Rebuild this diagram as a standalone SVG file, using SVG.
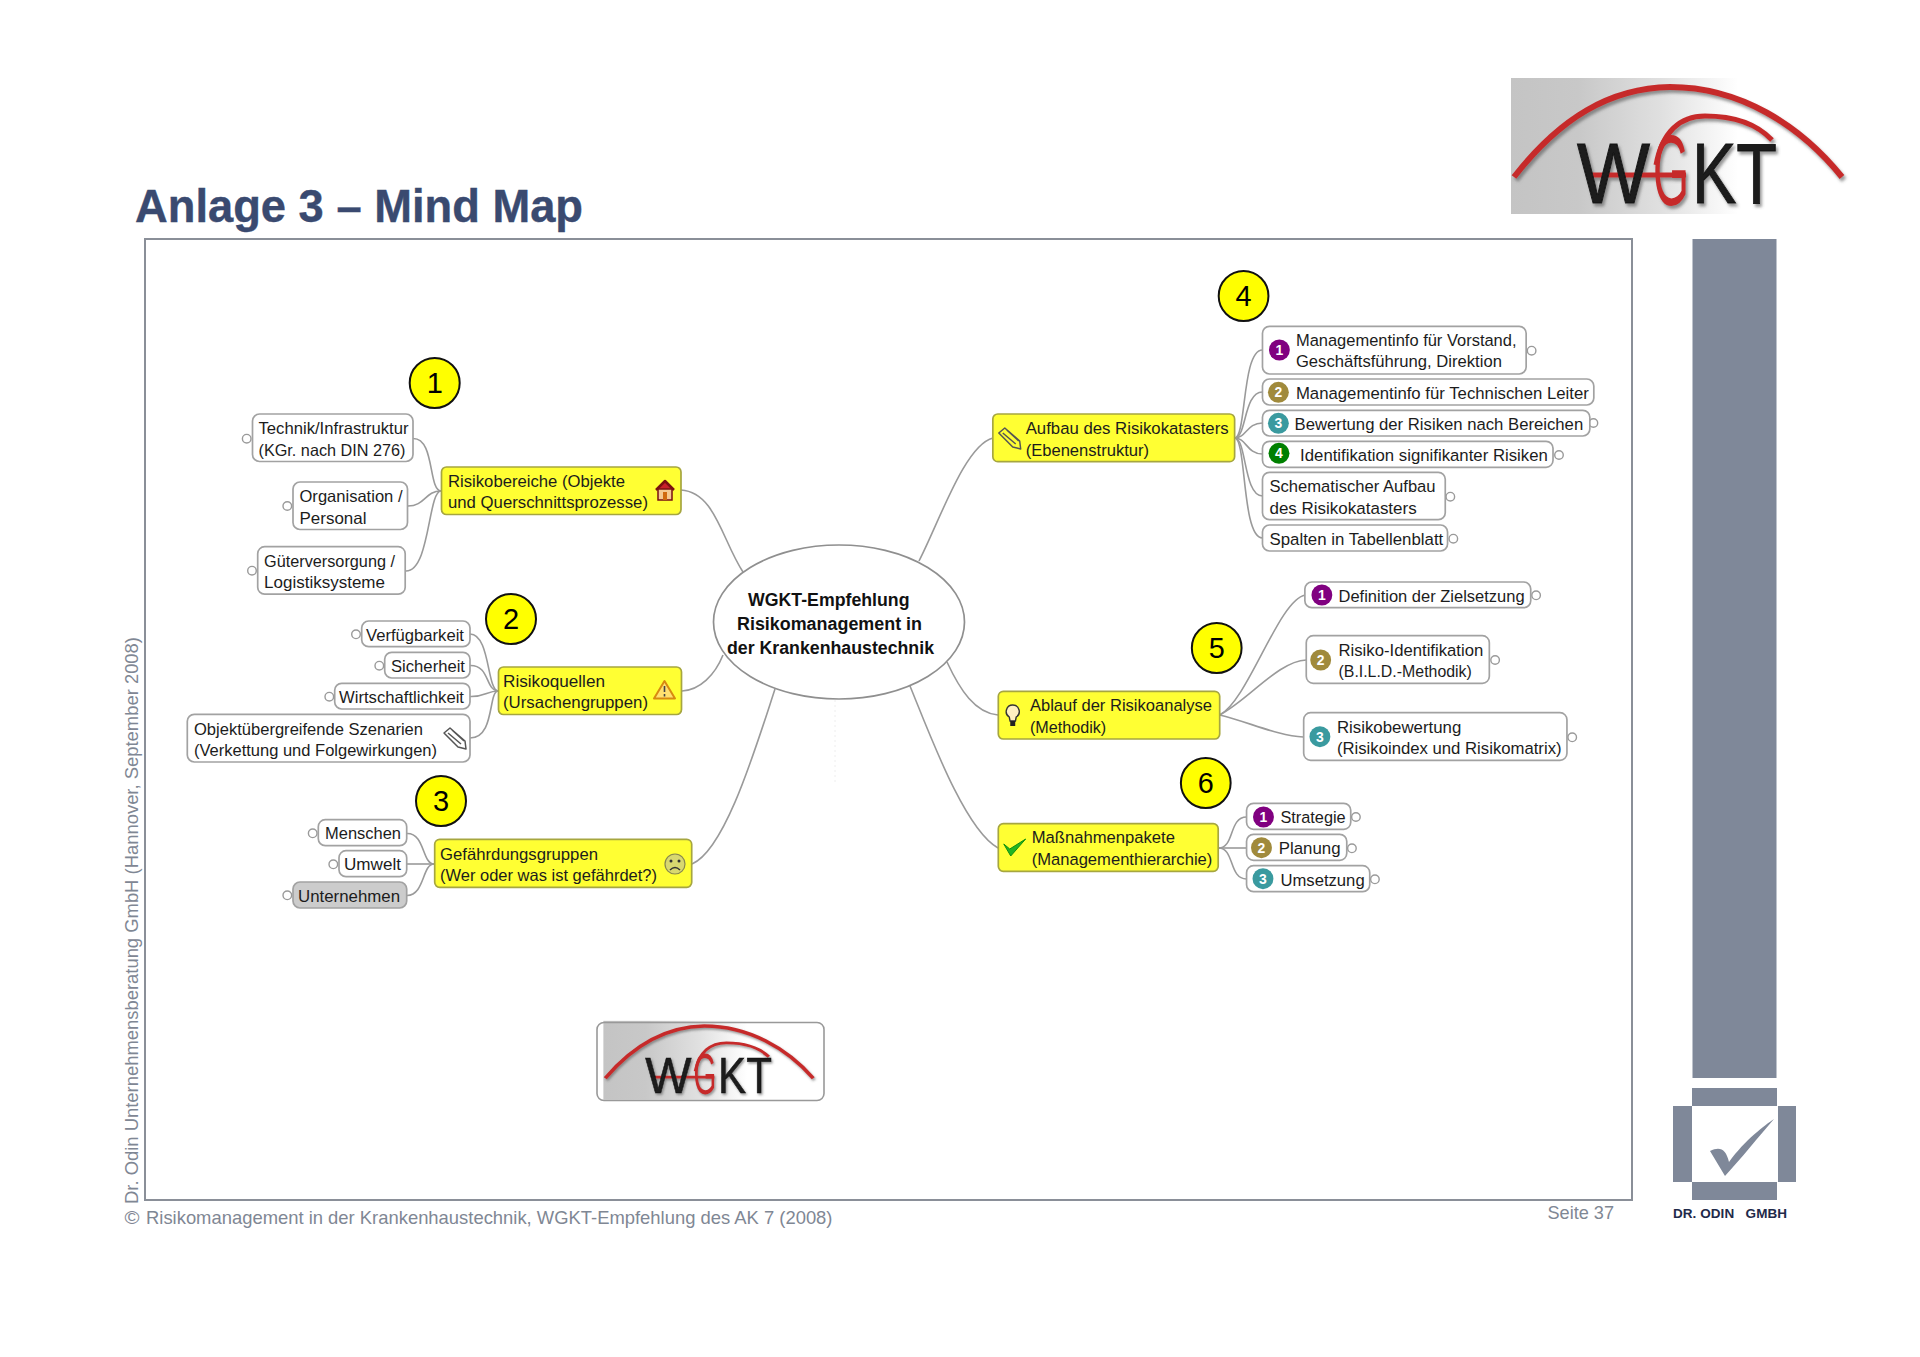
<svg xmlns="http://www.w3.org/2000/svg" width="1920" height="1357" viewBox="0 0 1920 1357">
<style>
text{font-family:"Liberation Sans",Arial,sans-serif}
.t{font-size:16.5px;fill:#1c1c1c}
.n{fill:#fff;stroke:#a2a2a2;stroke-width:1.7}
.g{fill:#ccc;stroke:#a2a2a2;stroke-width:1.7}
.y{fill:#ffff33;stroke:#a6a640;stroke-width:1.7}
.c{fill:none;stroke:#9a9a9a;stroke-width:1.6}
.x{fill:#fff;stroke:#9a9a9a;stroke-width:1.4}
.num{fill:#ffff00;stroke:#111;stroke-width:2}
.numt{font-size:29px;text-anchor:middle;fill:#000}
.bt{font-size:14px;font-weight:bold;text-anchor:middle;fill:#fff}
.grey{fill:#7f8899}
.foot{fill:#7f8794;font-size:18.5px}
.central{font-size:17.5px;font-weight:bold;fill:#111}
</style>
<defs>
<linearGradient id="lg" x1="0" y1="0" x2="1" y2="0"><stop offset="0" stop-color="#c4c4c4"/><stop offset="0.2" stop-color="#c8c8c8"/><stop offset="0.45" stop-color="#e0e0e0"/><stop offset="0.68" stop-color="#fff"/></linearGradient>
<filter id="sh" x="-5%" y="-5%" width="115%" height="115%"><feDropShadow dx="2" dy="3" stdDeviation="1.6" flood-color="#555" flood-opacity="0.6"/></filter>
<g id="logo">
<rect x="1511" y="78" width="334" height="136" fill="url(#lg)"/>
<g filter="url(#sh)">
<path d="M1514 177C1560 118 1610 88 1670 87C1740 87 1800 125 1842 177" fill="none" stroke="#c62c2c" stroke-width="6"/>
<path d="M1656 165C1662 132 1680 116 1705 116C1730 116 1755 122 1772 140" fill="none" stroke="#c62c2c" stroke-width="5"/>
<path d="M1590 175H1686" fill="none" stroke="#c62c2c" stroke-width="5"/>
<text x="1653" y="205" font-size="100" fill="#c62c2c" textLength="36" lengthAdjust="spacingAndGlyphs">G</text>
<text x="1577" y="203" font-size="86" stroke="#1a1a1a" stroke-width="1" fill="#1a1a1a" textLength="73" lengthAdjust="spacingAndGlyphs">W</text>
<text x="1692" y="203" font-size="86" stroke="#1a1a1a" stroke-width="1" fill="#1a1a1a" textLength="85" lengthAdjust="spacingAndGlyphs">KT</text>
</g>
</g>
<g id="clip"><path d="M-11-5 L-5-10 L10 3 L11 11 L3 9 Z M-7-5 L6 6 M-3-8 L9 3" fill="none" stroke="#555" stroke-width="1.5" stroke-linejoin="round"/></g>
</defs>
<rect width="1920" height="1357" fill="#fff"/>
<g id="page">
<text x="135" y="222" font-size="46" font-weight="bold" fill="#3a4a70" stroke="#3a4a70" stroke-width=".4" textLength="448" lengthAdjust="spacingAndGlyphs">Anlage 3 – Mind Map</text>
<use href="#logo"/>
<rect x="145" y="239" width="1487" height="961" fill="#fff" stroke="#8a8f98" stroke-width="2"/>
<rect class="grey" x="1692.5" y="239" width="84" height="839"/>
<rect class="grey" x="1692" y="1088" width="85" height="18"/>
<rect class="grey" x="1673" y="1106" width="19" height="76"/>
<rect class="grey" x="1778" y="1106" width="18" height="76"/>
<rect class="grey" x="1692" y="1182" width="85" height="18"/>
<path class="grey" d="M1710 1151C1720 1146 1726 1149 1729 1162C1745 1140 1765 1125 1774 1119C1760 1135 1740 1160 1725 1176Z"/>
<text x="1673" y="1218" font-size="13.5" font-weight="bold" fill="#1f2a4a" textLength="114" xml:space="preserve">DR. ODIN   GMBH</text>
<text class="foot" transform="translate(138.3 1204) rotate(-90)" textLength="567" lengthAdjust="spacingAndGlyphs">Dr. Odin Unternehmensberatung GmbH (Hannover, September 2008)</text>
<text class="foot" x="124.5" y="1223.5" textLength="15" lengthAdjust="spacingAndGlyphs">©</text>
<text class="foot" x="146" y="1223.5" textLength="686.5" lengthAdjust="spacingAndGlyphs">Risikomanagement in der Krankenhaustechnik, WGKT-Empfehlung des AK 7 (2008)</text>
<text class="foot" x="1547.5" y="1219" textLength="66.5" lengthAdjust="spacingAndGlyphs">Seite 37</text>
<line x1="835" y1="700" x2="835" y2="785" stroke="#eee" stroke-dasharray="2 3"/>
</g>
<g id="connectors">
<path class="c" d="M681 490C715 492 722 540 743 572"/>
<path class="c" d="M682 691C700 690 715 675 723 655"/>
<path class="c" d="M692 864C725 850 755 750 775 689"/>
<path class="c" d="M919 561C940 520 965 445 993 438"/>
<path class="c" d="M947 662C960 690 975 713 998 715"/>
<path class="c" d="M910 686C930 735 965 830 998 848"/>
<path class="c" d="M413 438.5C435 438 428 490 441 491"/>
<path class="c" d="M408 506C425 506 425 491 441 491"/>
<path class="c" d="M406 571C430 571 428 491 441 491"/>
<path class="c" d="M470 634C490 634 487 690 498 691"/>
<path class="c" d="M470 665.5C490 665 485 690 498 691"/>
<path class="c" d="M470 696.5C485 697 487 691 498 691"/>
<path class="c" d="M470 738C495 738 488 692 498 691"/>
<path class="c" d="M407 833.5C425 833 422 864 434 864"/>
<path class="c" d="M407 864H434"/>
<path class="c" d="M407 895.5C425 895 422 864 434 864"/>
<g transform="translate(4.8 0) scale(.995 1)">
<path class="c" d="M1236 438C1248 438 1243 350 1264 350"/>
<path class="c" d="M1236 438C1248 438 1245 392 1264 392"/>
<path class="c" d="M1236 438C1248 438 1248 423 1264 423"/>
<path class="c" d="M1236 438C1248 438 1248 454 1264 454"/>
<path class="c" d="M1236 438C1248 438 1245 496 1264 496"/>
<path class="c" d="M1236 438C1248 438 1243 538 1264 538"/>
<path class="c" d="M1221 715C1250 700 1280 600 1307 595"/>
<path class="c" d="M1221 715C1250 700 1280 661 1308 660"/>
<path class="c" d="M1221 715C1250 722 1280 736 1305 737"/>
<path class="c" d="M1220 848C1236 848 1230 817 1248 817"/>
<path class="c" d="M1220 848H1248"/>
<path class="c" d="M1220 848C1236 848 1230 879 1248 879"/>
</g>
</g>
<g id="central"><ellipse cx="839" cy="622" rx="125.5" ry="77" fill="#fff" stroke="#8f8f8f" stroke-width="1.7"/>
<text class="central" x="748" y="606" textLength="161.5" lengthAdjust="spacingAndGlyphs">WGKT-Empfehlung</text>
<text class="central" x="737" y="630" textLength="185" lengthAdjust="spacingAndGlyphs">Risikomanagement in</text>
<text class="central" x="727" y="654" textLength="207" lengthAdjust="spacingAndGlyphs">der Krankenhaustechnik</text></g>

<g id="num1"><circle class="num" cx="434.7" cy="383" r="25"/><text class="numt" x="434.7" y="393">1</text></g>
<g id="num2"><circle class="num" cx="511" cy="619" r="25"/><text class="numt" x="511" y="629">2</text></g>
<g id="num3"><circle class="num" cx="441" cy="801" r="25"/><text class="numt" x="441" y="811">3</text></g>

<g id="risikobereiche"><rect class="y" x="441.5" y="467" width="239.5" height="47.5" rx="5"/>
<text class="t" x="448" y="487" textLength="177" lengthAdjust="spacingAndGlyphs">Risikobereiche (Objekte</text>
<text class="t" x="448" y="508" textLength="200" lengthAdjust="spacingAndGlyphs">und Querschnittsprozesse)</text>
<path d="M656 490L665 481L674 490" fill="#c8202a" stroke="#7a1010" stroke-width="2.5" stroke-linejoin="round"/><rect x="658" y="489" width="14" height="11" fill="#f4c890" stroke="#7a1010" stroke-width="1.5"/><rect x="663" y="492" width="4" height="8" fill="#d06a10"/></g>
<g id="technik"><rect class="n" x="252.5" y="414" width="160.5" height="47.5" rx="7"/><circle class="x" cx="246.7" cy="438.7" r="4.3"/>
<text class="t" x="258.5" y="434" textLength="150" lengthAdjust="spacingAndGlyphs">Technik/Infrastruktur</text>
<text class="t" x="258.5" y="455.5" textLength="147" lengthAdjust="spacingAndGlyphs">(KGr. nach DIN 276)</text></g>
<g id="organisation"><rect class="n" x="293" y="482" width="114.5" height="47.5" rx="7"/><circle class="x" cx="287.3" cy="506" r="4.3"/>
<text class="t" x="299.5" y="502" textLength="103" lengthAdjust="spacingAndGlyphs">Organisation /</text>
<text class="t" x="299.5" y="523.5" textLength="67" lengthAdjust="spacingAndGlyphs">Personal</text></g>
<g id="gueter"><rect class="n" x="257.7" y="546.7" width="147.5" height="47.5" rx="7"/><circle class="x" cx="252" cy="570.7" r="4.3"/>
<text class="t" x="264" y="566.5" textLength="131" lengthAdjust="spacingAndGlyphs">Güterversorgung /</text>
<text class="t" x="264" y="588" textLength="121" lengthAdjust="spacingAndGlyphs">Logistiksysteme</text></g>

<g id="risikoquellen"><rect class="y" x="498.5" y="667" width="183" height="47.5" rx="5"/>
<text class="t" x="503" y="687" textLength="102" lengthAdjust="spacingAndGlyphs">Risikoquellen</text>
<text class="t" x="503" y="708" textLength="145" lengthAdjust="spacingAndGlyphs">(Ursachengruppen)</text>
<path d="M664.5 681L675 698.5H654Z" fill="#ffe070" stroke="#d88a10" stroke-width="2" stroke-linejoin="round"/><path d="M664.5 686V692M664.5 694V696.5" stroke="#444" stroke-width="1.6"/></g>
<g id="verfuegbarkeit"><rect class="n" x="361.7" y="621" width="108.3" height="25.7" rx="7"/><circle class="x" cx="356" cy="634.3" r="4.3"/><text class="t" x="366" y="640.5" textLength="98" lengthAdjust="spacingAndGlyphs">Verfügbarkeit</text></g>
<g id="sicherheit"><rect class="n" x="384.7" y="652.3" width="85.3" height="25.7" rx="7"/><circle class="x" cx="379.3" cy="665.7" r="4.3"/><text class="t" x="391" y="672" textLength="74" lengthAdjust="spacingAndGlyphs">Sicherheit</text></g>
<g id="wirtschaftlichkeit"><rect class="n" x="334.7" y="683.3" width="135.3" height="25.7" rx="7"/><circle class="x" cx="329.3" cy="696.7" r="4.3"/><text class="t" x="339" y="703" textLength="125" lengthAdjust="spacingAndGlyphs">Wirtschaftlichkeit</text></g>
<g id="objekt"><rect class="n" x="187.3" y="714.3" width="282.7" height="47.7" rx="7"/>
<text class="t" x="194" y="734.5" textLength="229" lengthAdjust="spacingAndGlyphs">Objektübergreifende Szenarien</text>
<text class="t" x="194" y="755.7" textLength="243" lengthAdjust="spacingAndGlyphs">(Verkettung und Folgewirkungen)</text>
<use href="#clip" x="455" y="738"/></g>

<g id="gefaehrdung"><rect class="y" x="434.7" y="839.3" width="257" height="48" rx="5"/>
<text class="t" x="440" y="859.5" textLength="158" lengthAdjust="spacingAndGlyphs">Gefährdungsgruppen</text>
<text class="t" x="440" y="880.7" textLength="217" lengthAdjust="spacingAndGlyphs">(Wer oder was ist gefährdet?)</text>
<circle cx="675" cy="864" r="10" fill="#d8d870" stroke="#888850" stroke-width="1.2"/><circle cx="671" cy="861" r="1.5" fill="#333"/><circle cx="679" cy="861" r="1.5" fill="#333"/><path d="M670 870Q675 865 680 870" fill="none" stroke="#333" stroke-width="1.4"/></g>
<g id="menschen"><rect class="n" x="318.3" y="819.7" width="88.4" height="26" rx="7"/><circle class="x" cx="312.7" cy="833.3" r="4.3"/><text class="t" x="325" y="839" textLength="76" lengthAdjust="spacingAndGlyphs">Menschen</text></g>
<g id="umwelt"><rect class="n" x="339" y="850.7" width="67.7" height="26" rx="7"/><circle class="x" cx="333.3" cy="864.3" r="4.3"/><text class="t" x="344" y="870" textLength="57" lengthAdjust="spacingAndGlyphs">Umwelt</text></g>
<g id="unternehmen"><rect class="g" x="293" y="882" width="113.7" height="26" rx="7"/><circle class="x" cx="287.3" cy="895.3" r="4.3"/><text class="t" x="298" y="901.5" textLength="102" lengthAdjust="spacingAndGlyphs">Unternehmen</text></g>

<g id="right-side" transform="translate(4.8 0) scale(.995 1)">
<g id="num4"><circle class="num" cx="1245" cy="296" r="25"/><text class="numt" x="1245" y="306">4</text></g>
<g id="num5"><circle class="num" cx="1218" cy="648" r="25"/><text class="numt" x="1218" y="658">5</text></g>
<g id="num6"><circle class="num" cx="1207" cy="783" r="25"/><text class="numt" x="1207" y="793">6</text></g>
<g id="aufbau"><rect class="y" x="993" y="414" width="243" height="47.7" rx="5"/>
<text class="t" x="1026" y="434" textLength="204" lengthAdjust="spacingAndGlyphs">Aufbau des Risikokatasters</text>
<text class="t" x="1026" y="455.7" textLength="124" lengthAdjust="spacingAndGlyphs">(Ebenenstruktur)</text>
<use href="#clip" x="1010" y="438"/></g>
<g id="info1"><rect class="n" x="1264" y="326.3" width="265" height="47.7" rx="7"/><circle class="x" cx="1534.5" cy="350.7" r="4.3"/><circle cx="1281" cy="350" r="10.5" fill="#800080"/><text class="bt" x="1281" y="355">1</text>
<text class="t" x="1297.6" y="346" textLength="221.7" lengthAdjust="spacingAndGlyphs">Managementinfo für Vorstand,</text>
<text class="t" x="1297.6" y="367.3" textLength="207" lengthAdjust="spacingAndGlyphs">Geschäftsführung, Direktion</text></g>
<g id="info2"><rect class="n" x="1264" y="379" width="333" height="26" rx="7"/><circle cx="1280" cy="392.3" r="10.5" fill="#a08a3c"/><text class="bt" x="1280" y="397.3">2</text>
<text class="t" x="1297.6" y="398.7" textLength="294.4" lengthAdjust="spacingAndGlyphs">Managementinfo für Technischen Leiter</text></g>
<g id="info3"><circle class="x" cx="1596.6" cy="423" r="4.3"/><rect class="n" x="1264" y="410.3" width="329" height="25.7" rx="7"/><circle cx="1280" cy="423.3" r="10.5" fill="#3a9a9f"/><text class="bt" x="1280" y="428.3">3</text>
<text class="t" x="1296.3" y="430" textLength="290" lengthAdjust="spacingAndGlyphs">Bewertung der Risiken nach Bereichen</text></g>
<g id="info4"><rect class="n" x="1264" y="441.3" width="292" height="26" rx="7"/><circle class="x" cx="1562" cy="455" r="4.3"/><circle cx="1280.6" cy="453.3" r="10.5" fill="#008000"/><text class="bt" x="1280.6" y="458.3">4</text>
<text class="t" x="1301.8" y="461" textLength="249" lengthAdjust="spacingAndGlyphs">Identifikation signifikanter Risiken</text></g>
<g id="schema"><rect class="n" x="1264" y="472.3" width="183.7" height="47.4" rx="7"/><circle class="x" cx="1452.8" cy="496.7" r="4.3"/>
<text class="t" x="1271" y="492.3" textLength="167" lengthAdjust="spacingAndGlyphs">Schematischer Aufbau</text>
<text class="t" x="1271" y="513.7" textLength="148" lengthAdjust="spacingAndGlyphs">des Risikokatasters</text></g>
<g id="spalten"><rect class="n" x="1264" y="525" width="186" height="26" rx="7"/><circle class="x" cx="1455.8" cy="538.7" r="4.3"/><text class="t" x="1271" y="545" textLength="174.7" lengthAdjust="spacingAndGlyphs">Spalten in Tabellenblatt</text></g>

<g id="ablauf"><rect class="y" x="998.5" y="691.3" width="222.5" height="47.7" rx="5"/>
<text class="t" x="1030.3" y="711" textLength="183" lengthAdjust="spacingAndGlyphs">Ablauf der Risikoanalyse</text>
<text class="t" x="1030.3" y="732.7" textLength="76.7" lengthAdjust="spacingAndGlyphs">(Methodik)</text>
<path d="M1013 705a6.5 6.5 0 0 1 3.5 12l-.8 4h-5.400l-.8-4a6.500 6.500 0 0 1 3.500-12Z" fill="#fff0c0" stroke="#333" stroke-width="1.4"/><rect x="1010.500" y="721" width="5" height="5" fill="#222"/></g>
<g id="definition"><rect class="n" x="1306.6" y="582" width="227" height="25.7" rx="7"/><circle class="x" cx="1539" cy="595.3" r="4.3"/><circle cx="1323.7" cy="595" r="10.5" fill="#800080"/><text class="bt" x="1323.7" y="600">1</text><text class="t" x="1340.4" y="601.7" textLength="187" lengthAdjust="spacingAndGlyphs">Definition der Zielsetzung</text></g>
<g id="identifikation"><rect class="n" x="1308" y="635.7" width="184" height="47.6" rx="7"/><circle class="x" cx="1497.8" cy="660" r="4.3"/><circle cx="1322.5" cy="660" r="10.5" fill="#a08a3c"/><text class="bt" x="1322.5" y="665">2</text>
<text class="t" x="1340.4" y="655.7" textLength="145.5" lengthAdjust="spacingAndGlyphs">Risiko-Identifikation</text>
<text class="t" x="1340.4" y="677" textLength="134" lengthAdjust="spacingAndGlyphs">(B.I.L.D.-Methodik)</text></g>
<g id="bewertung"><rect class="n" x="1305.4" y="712.7" width="264.6" height="47.6" rx="7"/><circle class="x" cx="1575.3" cy="737.3" r="4.3"/><circle cx="1321.7" cy="736.7" r="10.5" fill="#3a9a9f"/><text class="bt" x="1321.7" y="741.7">3</text>
<text class="t" x="1338.8" y="733" textLength="125" lengthAdjust="spacingAndGlyphs">Risikobewertung</text>
<text class="t" x="1338.8" y="754.3" textLength="225.8" lengthAdjust="spacingAndGlyphs">(Risikoindex und Risikomatrix)</text></g>

<g id="massnahmen"><rect class="y" x="998.5" y="823.7" width="221" height="47.6" rx="5"/>
<text class="t" x="1032" y="843.3" textLength="144" lengthAdjust="spacingAndGlyphs">Maßnahmenpakete</text>
<text class="t" x="1032" y="865" textLength="181.6" lengthAdjust="spacingAndGlyphs">(Managementhierarchie)</text>
<path d="M1004 844L1010 849L1026 839L1011 856Z" fill="#22b522" stroke="#0f8f0f" stroke-width="1"/></g>
<g id="strategie"><rect class="n" x="1248" y="803.3" width="104.7" height="26" rx="7"/><circle class="x" cx="1357.9" cy="817" r="4.3"/><circle cx="1265" cy="817" r="10.5" fill="#800080"/><text class="bt" x="1265" y="822">1</text><text class="t" x="1282" y="823" textLength="65.6" lengthAdjust="spacingAndGlyphs">Strategie</text></g>
<g id="planung"><rect class="n" x="1248" y="834.3" width="100.7" height="26" rx="7"/><circle class="x" cx="1353.9" cy="848.3" r="4.3"/><circle cx="1263" cy="847.7" r="10.5" fill="#a08a3c"/><text class="bt" x="1263" y="852.7">2</text><text class="t" x="1280.4" y="854.3" textLength="62" lengthAdjust="spacingAndGlyphs">Planung</text></g>
<g id="umsetzung"><rect class="n" x="1248" y="865.7" width="123.8" height="26" rx="7"/><circle class="x" cx="1377" cy="879.3" r="4.3"/><circle cx="1264.5" cy="878.7" r="10.5" fill="#3a9a9f"/><text class="bt" x="1264.5" y="883.7">3</text><text class="t" x="1282" y="885.7" textLength="84.7" lengthAdjust="spacingAndGlyphs">Umsetzung</text></g>
</g>

<g id="logo2"><rect x="597" y="1022.5" width="227" height="78" rx="7" fill="#fff"/>
<g transform="translate(-354.6 975.6) scale(.634 .58)"><use href="#logo"/></g>
<rect x="597" y="1022.5" width="227" height="78" rx="7" fill="none" stroke="#999" stroke-width="1.6"/></g>
</svg>
